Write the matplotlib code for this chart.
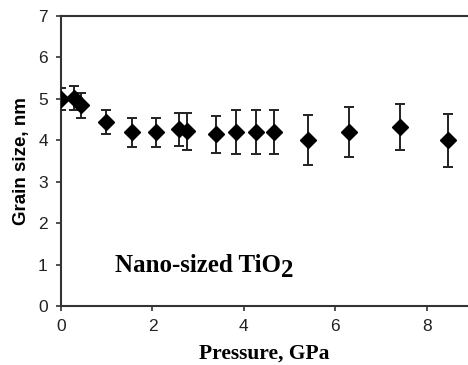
import matplotlib
matplotlib.use("Agg")
import matplotlib.pyplot as plt

# pressure (GPa), grain size (nm), error (nm)
pressure = [0.0, 0.28, 0.44, 0.98, 1.55, 2.08, 2.58, 2.76, 3.40, 3.83,
            4.26, 4.66, 5.41, 6.29, 7.41, 8.47]
grain_size = [5.00, 5.02, 4.84, 4.43, 4.20, 4.20, 4.27, 4.22, 4.14, 4.20,
              4.20, 4.20, 4.00, 4.20, 4.32, 4.00]
grain_err = [0.26, 0.28, 0.30, 0.29, 0.35, 0.35, 0.40, 0.45, 0.45, 0.53,
             0.53, 0.53, 0.60, 0.60, 0.55, 0.64]

x_ticks = [0, 2, 4, 6, 8]
y_ticks = [0, 1, 2, 3, 4, 5, 6, 7]

fig = plt.figure(figsize=(4.68, 3.65), dpi=100)
ax = fig.add_axes([61 / 468, 1 - 306 / 365, 1 - 61 / 468, 290 / 365])

ax.errorbar(pressure, grain_size, yerr=grain_err, fmt="D", color="black",
            ms=8, ecolor="#222222", elinewidth=1.4, capsize=3.5,
            capthick=1.4, zorder=3)

ax.set_xlim(0, 8.9)
ax.set_ylim(0, 7)
ax.set_xticks(x_ticks)
ax.set_yticks(y_ticks)

for side in ["left", "bottom", "top"]:
    ax.spines[side].set_linewidth(1.5)
    ax.spines[side].set_color("#333333")
ax.spines["right"].set_visible(False)

ax.tick_params(direction="out", length=3.5, width=1.2, color="#333333",
               labelsize=12.5, pad=6)
for lbl in ax.get_xticklabels() + ax.get_yticklabels():
    lbl.set_family("Liberation Sans")
    lbl.set_color("#222222")

ax.set_ylabel("Grain size, nm", family="Liberation Sans", fontweight="bold",
              fontsize=13.5, labelpad=6)
ax.set_xlabel("Pressure, GPa", family="Liberation Serif", fontweight="bold",
              fontsize=15.5, labelpad=7)

t = ax.text(1.17, 0.82, "Nano-sized TiO", family="Liberation Serif",
            fontweight="bold", fontsize=18, ha="left", va="baseline")
ax.annotate("2", xy=(1, 0), xycoords=t, xytext=(0, -3.5),
            textcoords="offset points", family="Liberation Serif",
            fontweight="bold", fontsize=18, ha="left", va="bottom")

fig.savefig("out.png", dpi=100)
